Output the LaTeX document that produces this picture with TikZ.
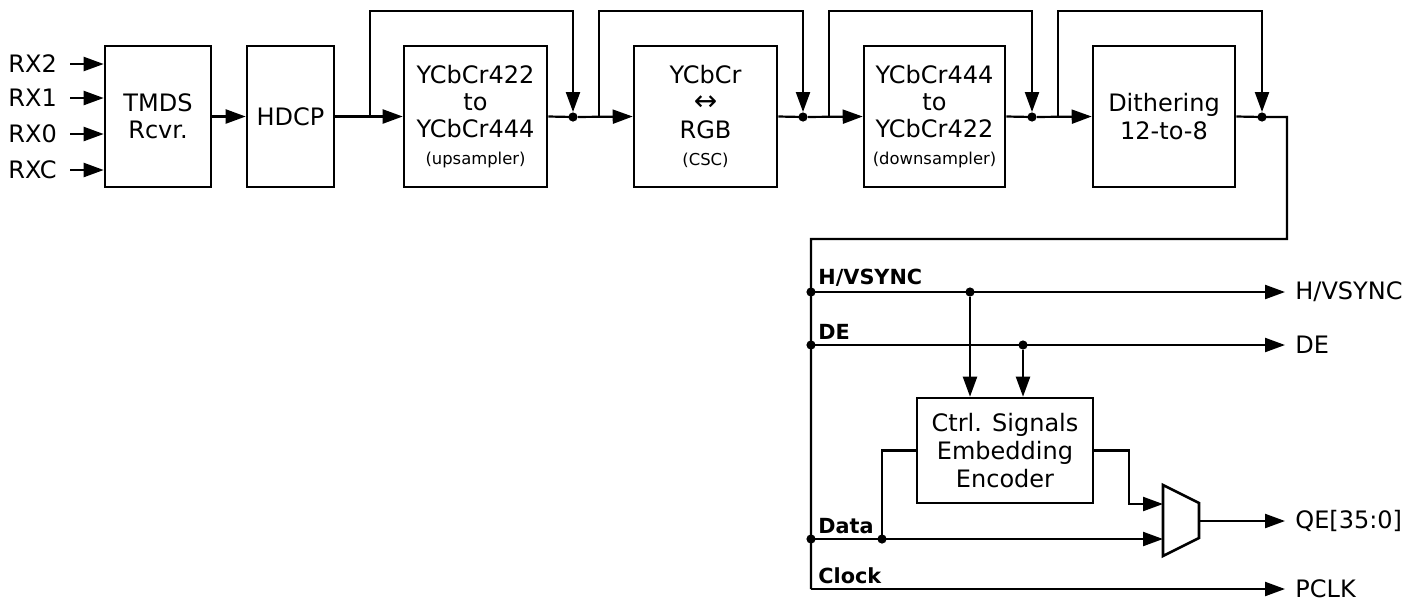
\documentclass[tikz,border=0pt]{standalone}
\usepackage{fontspec}
\setmainfont{DejaVu Sans}
\usetikzlibrary{arrows.meta}
\begin{document}
\begin{tikzpicture}[x=0.5pt,y=-0.5pt,
  blk/.style={draw,line width=1.3pt,minimum height=70.5pt,inner sep=0pt,align=center,font=\fontsize{12}{13.6}\selectfont},
  wire/.style={line width=1.1pt},
  arr/.style={wire,-{Triangle[length=10pt,width=7pt]}},
  jdot/.style={circle,fill,inner sep=0pt,minimum size=4.6pt},
  lbl/.style={font=\fontsize{12}{13}\selectfont,inner xsep=5pt,inner ysep=0pt,anchor=west},
  blbl/.style={font=\bfseries\fontsize{10.4}{12}\selectfont,inner sep=0pt,anchor=south west}]
\useasboundingbox (0,0) rectangle (1422,601);
% input labels
\node[lbl,inner xsep=0pt] (rx2) at (8,64) {RX2};
\node[lbl,inner xsep=0pt] (rx1) at (8,98) {RX1};
\node[lbl,inner xsep=0pt] (rx0) at (8,134) {RX0};
\node[lbl,inner xsep=0pt] (rxc) at (8,170) {RXC};
% blocks
\node[blk,minimum width=53pt] (tmds) at (158,116.5) {TMDS\\Rcvr.};
\node[blk,minimum width=43.5pt] (hdcp) at (290.5,116.5) {HDCP};
\node[blk,minimum width=71.5pt] (up) at (475.5,116.5) {YCbCr422\\to\\YCbCr444\\{\fontsize{8.2}{10}\selectfont (upsampler)}};
\node[blk,minimum width=71.5pt] (csc) at (705.5,116.5) {YCbCr\\{\fontsize{14}{13.6}\selectfont ↔}\\RGB\\{\fontsize{8.2}{10}\selectfont (CSC)}};
\node[blk,minimum width=70.5pt] (down) at (934.5,116.5) {YCbCr444\\to\\YCbCr422\\{\fontsize{8.2}{10}\selectfont (downsampler)}};
\node[blk,minimum width=71pt] (dith) at (1164,116.5) {Dithering\\12-to-8};
\node[blk,minimum width=88pt,minimum height=52.5pt,font=\fontsize{12}{14}\selectfont] (ctrl) at (1005,450.5) {Ctrl. Signals\\Embedding\\Encoder};
% input arrows
\coordinate (s2) at (70,64); \coordinate (s1) at (70,98);
\coordinate (s0) at (70,134); \coordinate (sc) at (70,170);
\draw[arr] (s2) -- (s2 -| tmds.west);
\draw[arr] (s1) -- (s1 -| tmds.west);
\draw[arr] (s0) -- (s0 -| tmds.west);
\draw[arr] (sc) -- (sc -| tmds.west);
\draw[arr] (tmds.east) -- (hdcp.west);
% junctions
\node[jdot] (j1) at (573,117) {};
\node[jdot] (j2) at (803,117) {};
\node[jdot] (j3) at (1032,117) {};
\node[jdot] (j4) at (1262,117) {};
\coordinate (b1) at (370,117);
\coordinate (b2) at (599,117);
\coordinate (b3) at (829,117);
\coordinate (b4) at (1058,117);
% main chain
\draw[arr] (hdcp.east) -- (up.west);
\draw[wire] (up.east) -- (j1.center);
\draw[arr] (j1) -- (csc.west);
\draw[wire] (csc.east) -- (j2.center);
\draw[arr] (j2) -- (down.west);
\draw[wire] (down.east) -- (j3.center);
\draw[arr] (j3) -- (dith.west);
% bypasses
\draw[arr] (b1) -- (370,11) -| (j1);
\draw[arr] (b2) -- (599,11) -| (j2);
\draw[arr] (b3) -- (829,11) -| (j3);
\draw[arr] (b4) -- (1058,11) -| (j4);
% output bus
\node[lbl] (ohv) at (1285,292) {H/VSYNC};
\node[lbl] (ode) at (1285,345) {DE};
\node[lbl] (oqe) at (1285,521) {QE[35:0]};
\node[lbl] (opc) at (1285,589) {PCLK};
\coordinate (bus) at (811,589);
\draw[wire] (dith.east) -- (j4.center) -- (1287,117) -- (1287,239) -- (811,239) -- (bus);
\draw[arr] (bus) -- (opc.west);
\node[blbl] at (818,287) {H/VSYNC};
\node[blbl] at (818,340) {DE};
\node[blbl] at (818,534) {Data};
\node[blbl] at (818,584) {Clock};
\node[jdot] (hv0) at (811,292) {};
\node[jdot] (hv1) at (970,292) {};
\node[jdot] (de0) at (811,345) {};
\node[jdot] (de1) at (1023,345) {};
\node[jdot] (da0) at (811,539) {};
\node[jdot] (da1) at (882,539) {};
\draw[arr] (hv0.center) -- (ohv.west);
\draw[arr] (de0.center) -- (ode.west);
\draw[arr] (hv1) -- (hv1 |- ctrl.north);
\draw[arr] (de1) -- (de1 |- ctrl.north);
% mux
\draw[line width=1.3pt] (1163,485) -- (1199,503) -- (1199,538) -- (1163,556) -- cycle;
\coordinate (muxA) at (1163,504);
\coordinate (muxB) at (1163,539);
\coordinate (muxO) at (1199,521);
\draw[arr] (da0.center) -- (muxB);
\draw[wire] (da1.center) |- (ctrl.west);
\draw[arr] (ctrl.east) -- (1129,450.5) |- (muxA);
\draw[arr] (muxO) -- (oqe.west);
\end{tikzpicture}
\end{document}
